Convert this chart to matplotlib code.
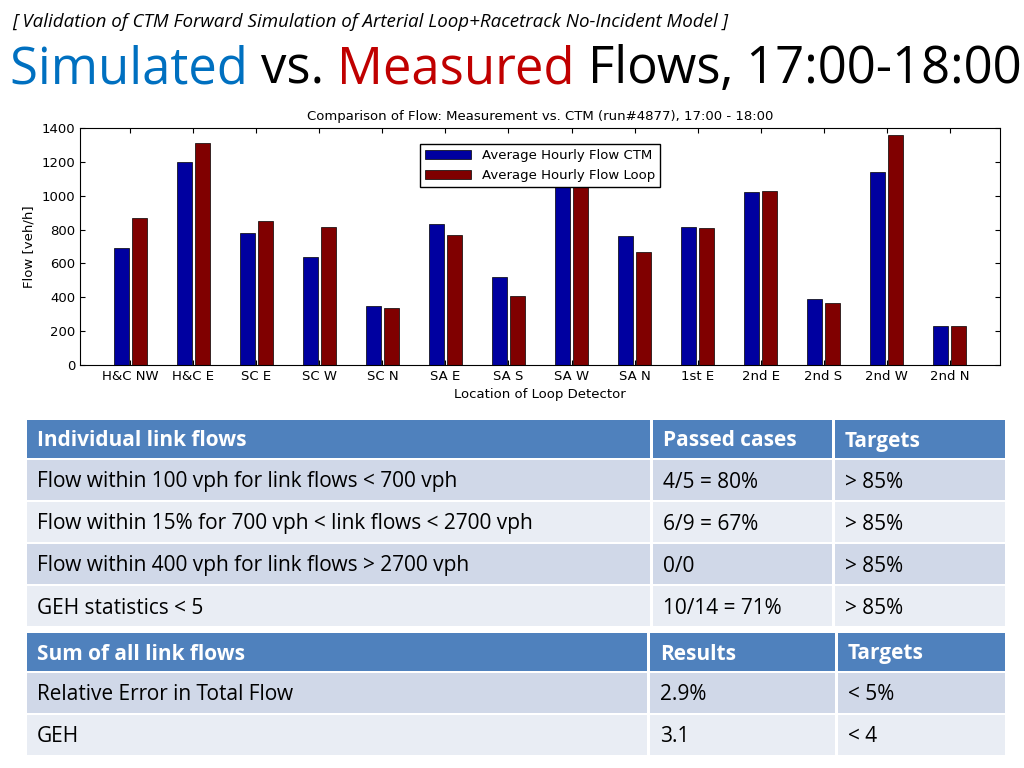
import matplotlib
matplotlib.use("Agg")
import matplotlib.pyplot as plt
import numpy as np
from matplotlib.patches import Rectangle

locations = ["H&C NW","H&C E","SC E","SC W","SC N","SA E","SA S","SA W","SA N","1st E","2nd E","2nd S","2nd W","2nd N"]
ctm = [690,1200,780,640,350,830,520,1090,760,815,1020,390,1140,230]
loop = [870,1310,850,815,335,770,405,1085,670,810,1025,365,1360,230]

t1_header = ["Individual link flows","Passed cases","Targets"]
t1_rows = [["Flow within 100 vph for link flows < 700 vph","4/5 = 80%","> 85%"],
           ["Flow within 15% for 700 vph < link flows < 2700 vph","6/9 = 67%","> 85%"],
           ["Flow within 400 vph for link flows > 2700 vph","0/0","> 85%"],
           ["GEH statistics < 5","10/14 = 71%","> 85%"]]
t2_header = ["Sum of all link flows","Results","Targets"]
t2_rows = [["Relative Error in Total Flow","2.9%","< 5%"],["GEH","3.1","< 4"]]

W, H = 1024, 768
fig = plt.figure(figsize=(10.24,7.68), dpi=100)
FONT = "Open Sans"

fig.text(12/W, 1-22/H, "[ Validation of CTM Forward Simulation of Arterial Loop+Racetrack No-Incident Model ]",
         fontsize=13.5, style="italic", family=FONT, va="center", ha="left")
y2 = 1-70/H
parts = [("Simulated ", "#0070C0"), ("vs. ", "black"), ("Measured ", "#C00000"), ("Flows, 17:00-18:00", "black")]
x = 10/W
r = fig.canvas.get_renderer()
for s, c in parts:
    t = fig.text(x, y2, s, fontsize=36.5, family=FONT, color=c, va="center", ha="left")
    bb = t.get_window_extent(renderer=r)
    x += bb.width/W

ax = fig.add_axes([80/W, 1-365/H, 920/W, 237/H])
xi = np.arange(len(locations))
w = 0.24
ax.bar(xi-w/2-0.02, ctm, w, color="#0000A0", edgecolor="black", linewidth=0.5, label="Average Hourly Flow CTM")
ax.bar(xi+w/2+0.02, loop, w, color="#800000", edgecolor="black", linewidth=0.5, label="Average Hourly Flow Loop")
ax.set_xlim(-0.8, len(locations)-0.2)
ax.set_ylim(0,1400)
ax.set_yticks(range(0,1401,200))
ax.set_xticks(xi)
ax.set_xticklabels(locations)
ax.tick_params(labelsize=9.5, direction="in", top=True, right=True)
ax.set_ylabel("Flow [veh/h]", fontsize=9.5)
ax.set_xlabel("Location of Loop Detector", fontsize=9.5)
ax.set_title("Comparison of Flow: Measurement vs. CTM (run#4877), 17:00 - 18:00", fontsize=9.5)
ax.legend(loc="upper center", bbox_to_anchor=(0.5,0.96), fontsize=9.5, fancybox=False, edgecolor="black", framealpha=1, handlelength=3.5)

def table(top, header, rows, cols):
    rh_h = 38; rh = 40; gap = 2
    y = top
    def row(ytop, h, texts, fc, tc, bold):
        for (x0,x1), t in zip(cols, texts):
            fig.patches.append(Rectangle((x0/W, 1-(ytop+h)/H), (x1-x0)/W, h/H, transform=fig.transFigure, facecolor=fc, edgecolor="none"))
            fig.text((x0+10)/W, 1-(ytop+h/2+2)/H, t, fontsize=15, family=FONT, color=tc,
                     fontweight="bold" if bold else "normal", va="center", ha="left")
    row(y, rh_h, header, "#4F81BD", "white", True)
    y += rh_h + gap
    for i, rr in enumerate(rows):
        row(y, rh, rr, "#D0D8E8" if i%2==0 else "#E9EDF4", "black", False)
        y += rh + gap

table(420, t1_header, t1_rows, [(27,650),(653,832),(835,1005)])
table(633, t2_header, t2_rows, [(27,647),(650,835),(838,1005)])

fig.savefig("out.png", dpi=100)
